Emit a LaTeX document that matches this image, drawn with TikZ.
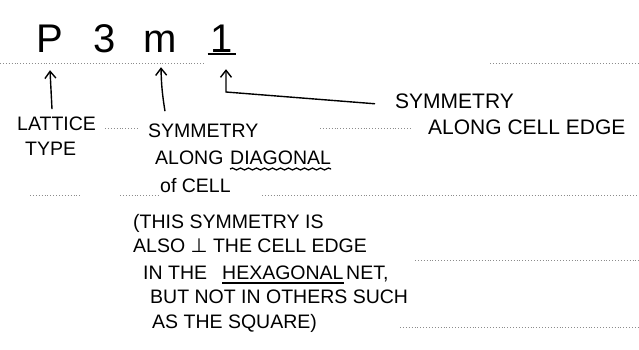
\documentclass[tikz,border=0pt]{standalone}
\usepackage{fontspec}
\setmainfont{Liberation Sans}
\newfontfamily\symfont{DejaVu Sans}
\usetikzlibrary{arrows.meta,decorations.pathmorphing}
\begin{document}
\begin{tikzpicture}[x=1pt,y=-1pt,
  lbl/.style={anchor=base west,inner sep=0pt,font=\fontsize{19.5}{19.5}\selectfont},
  big/.style={anchor=base,inner sep=0pt,font=\fontsize{40}{40}\selectfont},
  arr/.style={line width=1.4pt,-{Straight Barb[length=7pt,width=11pt,line width=1.4pt]}},
  ruled/.style={black!45,dotted,line width=0.9pt},
  pen/.style={line width=1.3pt}]
\useasboundingbox (0,0) rectangle (639,349);
\fill[white] (0,0) rectangle (639,349);
% faint ruled lines of the paper
\draw[ruled] (0,63) -- (205,63);
\draw[ruled] (490,63) -- (639,63);
\draw[ruled] (105,128) -- (138,128);
\draw[ruled] (320,128) -- (410,128);
\draw[ruled] (30,195) -- (80,195);
\draw[ruled] (120,195) -- (158,195);
\draw[ruled] (262,195) -- (639,195);
\draw[ruled] (415,260) -- (639,260);
\draw[ruled] (400,327) -- (639,327);
% symbol
\node[big] (P) at (50,52) {P};
\node[big] (three) at (105,52) {3};
\node[big] (m) at (160,52) {m};
\node[big] (one) at (222,52) {1};
\draw[pen] ([xshift=-3pt,yshift=-2pt]one.base west) -- ([xshift=3pt,yshift=-2pt]one.base east);
% labels
\node[lbl] (lat) at (17,130) {LATTICE};
\node[lbl] (typ) at (25,155) {TYPE};
\node[lbl] (sym) at (148,137) {SYMMETRY};
\node[lbl] (along) at (155,164) {ALONG};
\node[lbl] (diag) at (230,164) {DIAGONAL};
\node[lbl] (ofcell) at (160,192) {of CELL};
\draw[pen,decorate,decoration={snake,amplitude=1pt,segment length=8pt}] ([yshift=-5pt]diag.base west) -- ([yshift=-5pt]diag.base east);
\node[lbl,font=\fontsize{21}{21}\selectfont] (sym2) at (395,108) {SYMMETRY};
\node[lbl,font=\fontsize{21}{21}\selectfont] (edge) at (428,134) {ALONG CELL EDGE};
\node[lbl] (p1) at (133,228) {(THIS SYMMETRY IS};
\node[lbl] (p2) at (133,252) {ALSO {\symfont ⊥} THE CELL EDGE};
\node[lbl] (p3a) at (143,279) {IN THE};
\node[lbl] (p3) at (222,279) {HEXAGONAL};
\node[lbl] (p3b) at (346,279) {NET,};
\node[lbl] (p4) at (150,303) {BUT NOT IN OTHERS SUCH};
\node[lbl] (p5) at (152,328) {AS THE SQUARE)};
\draw[pen] ([yshift=-4pt]p3.base west) -- ([yshift=-4pt]p3.base east);
% arrows
\coordinate (c1) at (226,92);
\draw[arr] ([xshift=35pt,yshift=7pt]lat.north west) -- ([yshift=-18pt]P.south);
\draw[arr] ([xshift=17pt,yshift=12pt]sym.north west) to[bend left=4] ([xshift=1pt,yshift=-15pt]m.south);
\draw[arr] ([xshift=-20pt,yshift=-3pt]sym2.west) -- (c1) -- ([xshift=4pt,yshift=-17pt]one.south);
\end{tikzpicture}
\end{document}
